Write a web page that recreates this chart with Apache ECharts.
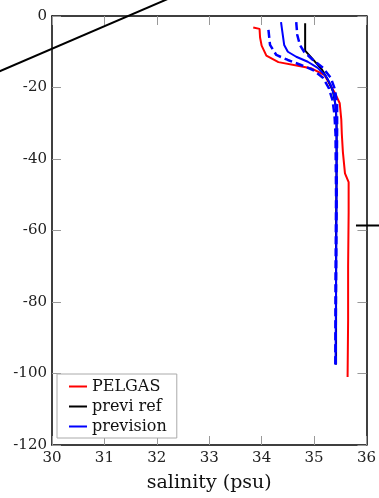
<!DOCTYPE html>
<html><head><meta charset="utf-8">
<script src="https://cdn.jsdelivr.net/npm/echarts@6/dist/echarts.min.js"></script>
<style>html,body{margin:0;padding:0;background:#fff}#c{width:379px;height:498px}</style>
</head><body><div id="c"></div>
<script>
// Axis ticks
const xTicks = [30, 31, 32, 33, 34, 35, 36];
const yTicks = [0, -20, -40, -60, -80, -100, -120];

// PELGAS (observed)
const pelgasSal   = [33.84, 33.96, 33.97, 34.00, 34.09, 34.32, 34.69, 34.94, 35.20, 35.27, 35.40, 35.49, 35.52, 35.53, 35.55, 35.59, 35.66, 35.66, 35.65, 35.65, 35.64];
const pelgasDepth = [-3.2, -3.6, -6.0, -8.3, -11.1, -12.9, -13.9, -14.6, -16.5, -18.3, -21.6, -24.4, -29.0, -33.0, -38.0, -44.0, -46.5, -55.0, -70.0, -85.0, -101.0];

// previ ref
const refSal   = [34.83, 34.83, 35.00, 35.15, 35.27, 35.36, 35.41, 35.43, 35.43, 35.42, 35.42, 35.42];
const refDepth = [-2.0, -9.7, -12.5, -15.0, -18.0, -21.0, -25.0, -30.0, -40.0, -60.0, -80.0, -97.5];

// prevision (mean)
const prevSal   = [34.37, 34.39, 34.43, 34.50, 34.66, 34.88, 35.07, 35.22, 35.32, 35.38, 35.42, 35.43, 35.43, 35.42, 35.41];
const prevDepth = [-1.7, -3.9, -8.1, -10.0, -11.4, -12.8, -14.5, -16.7, -19.3, -22.0, -26.2, -31.8, -50.0, -75.0, -97.5];

// prevision envelope (low / high)
const lowSal   = [34.13, 34.16, 34.28, 34.50, 34.75, 34.98, 35.17, 35.28, 35.35, 35.39, 35.41, 35.42, 35.41, 35.41];
const lowDepth = [-3.9, -8.1, -10.9, -12.3, -13.7, -15.1, -17.3, -20.1, -23.4, -27.6, -33.0, -50.0, -75.0, -97.5];
const highSal   = [34.66, 34.68, 34.73, 34.81, 34.98, 35.17, 35.32, 35.40, 35.44, 35.44, 35.43, 35.42, 35.41];
const highDepth = [-1.7, -5.3, -8.1, -10.0, -12.3, -14.5, -17.3, -20.6, -24.8, -31.8, -50.0, -75.0, -97.5];

// stray reference lines (extend beyond the axes)
const strayASal = [28.5, 32.5];
const strayADepth = [-18.6, 6.6];
const strayBSal = [35.8, 36.4];
const strayBDepth = [-58.6, -58.6];

const zip = (a, b) => a.map((v, i) => [v, b[i]]);
const FONT = 'DejaVu Serif';

const chart = echarts.init(document.getElementById('c'), null, {renderer: 'canvas'});
const axisLine = {show: true, onZero: false, lineStyle: {color: '#000', width: 1.5}};
const tickIn = {show: true, inside: true, length: 9, lineStyle: {color: '#999', width: 1}};
const lbl = {fontFamily: FONT, fontSize: 15, color: '#222'};

chart.setOption({
  animation: false,
  backgroundColor: '#fff',
  grid: {left: 52, right: 10, top: 16, bottom: 52, containLabel: false},
  xAxis: [
    {type: 'value', min: 30, max: 36, interval: 1, position: 'bottom',
     axisLine, axisTick: tickIn, splitLine: {show: false},
     axisLabel: Object.assign({margin: 6}, lbl),
     name: 'salinity (psu)', nameLocation: 'middle', nameGap: 29,
     nameTextStyle: {fontFamily: FONT, fontSize: 19, color: '#111'}},
    {type: 'value', min: 30, max: 36, interval: 1, position: 'top',
     axisLine, axisTick: tickIn, splitLine: {show: false}, axisLabel: {show: false}}
  ],
  yAxis: [
    {type: 'value', min: -120, max: 0, interval: 20, position: 'left',
     axisLine, axisTick: tickIn, splitLine: {show: false},
     axisLabel: Object.assign({margin: 5}, lbl)},
    {type: 'value', min: -120, max: 0, interval: 20, position: 'right',
     axisLine, axisTick: tickIn, splitLine: {show: false}, axisLabel: {show: false}}
  ],
  legend: {
    orient: 'vertical', left: 57, top: 374,
    data: [
      {name: 'PELGAS', icon: 'rect'},
      {name: 'previ ref', icon: 'rect'},
      {name: 'prevision', icon: 'rect'}
    ],
    backgroundColor: '#fff', borderColor: '#aaa', borderWidth: 1,
    padding: [4, 10, 3, 12], itemGap: 3, itemWidth: 18, itemHeight: 2,
    textStyle: {fontFamily: FONT, fontSize: 16, color: '#111', lineHeight: 17}
  },
  series: [
    {name: 'PELGAS', type: 'line', data: zip(pelgasSal, pelgasDepth), symbol: 'none',
     itemStyle: {color: '#ff0000'}, lineStyle: {color: '#ff0000', width: 2}},
    {name: 'previ ref', type: 'line', data: zip(refSal, refDepth), symbol: 'none',
     itemStyle: {color: '#000'}, lineStyle: {color: '#000', width: 2}},
    {name: 'prevision', type: 'line', data: zip(prevSal, prevDepth), symbol: 'none',
     itemStyle: {color: '#0000ff'}, lineStyle: {color: '#0000ff', width: 2}},
    {name: 'prevision low', type: 'line', data: zip(lowSal, lowDepth), symbol: 'none',
     itemStyle: {color: '#0000ff'}, lineStyle: {color: '#0000ff', width: 2.5, type: [8, 4]}},
    {name: 'prevision high', type: 'line', data: zip(highSal, highDepth), symbol: 'none',
     itemStyle: {color: '#0000ff'}, lineStyle: {color: '#0000ff', width: 2.5, type: [8, 4]}}
  ]
});

// stray lines drawn through the chart's own scales, unclipped
const toPx = (x, y) => chart.convertToPixel({xAxisIndex: 0, yAxisIndex: 0}, [x, y]);
const strayLine = (xs, ys) => {
  const p1 = toPx(xs[0], ys[0]), p2 = toPx(xs[1], ys[1]);
  return {type: 'line', silent: true, z: 1,
          shape: {x1: p1[0], y1: p1[1], x2: p2[0], y2: p2[1]},
          style: {stroke: '#000', lineWidth: 2}};
};
chart.setOption({graphic: [strayLine(strayASal, strayADepth), strayLine(strayBSal, strayBDepth)]});
</script></body></html>
